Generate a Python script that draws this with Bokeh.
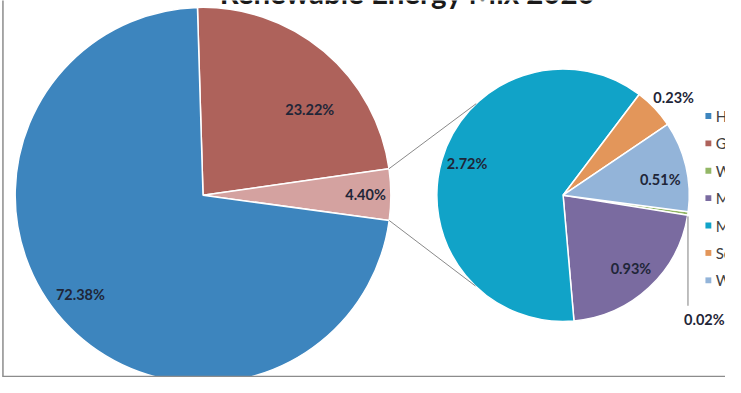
import math
from bokeh.plotting import figure
from bokeh.models import Range1d
from bokeh.embed import file_html
from bokeh.resources import INLINE
from bokeh.core.properties import value

# ---------------- data ----------------
title_text = "Renewable Energy Mix 2020"
sources = ["Hydro", "Geothermal", "Wave", "Mini Hydro", "Modern Biomass", "Solar", "Wind"]
shares = [72.38, 23.22, 0.02, 0.93, 2.72, 0.23, 0.51]
colors = ["#3D85BE", "#AE625B", "#93B766", "#7A6BA0", "#11A3C8", "#E3965A", "#93B4D9"]
other_share = 4.40
other_color = "#D4A2A0"
main_order = ["Geothermal", "Other", "Hydro"]                              # clockwise
second_order = ["Wave", "Mini Hydro", "Modern Biomass", "Solar", "Wind"]  # clockwise

# ---------------- layout (reference pixel space) ----------------
W, H = 741, 393
FW, FH = 725, 377
VIS_H = FH * W / FW            # uniform scale, top aligned
main_c = (207, 199); main_r = 192
sec_c = (575, 199); sec_r = 129
main_start = -1.7
sec_start = 97.5
main_lab = {"Geothermal": (0.73, 11), "Other": (0.865, 0), "Hydro": (0.84, 3)}
sec_lab = {"Mini Hydro": (0.79, 0), "Modern Biomass": (0.80, 2), "Solar": (1.17, 2), "Wind": (0.78, 4)}

share_of = dict(zip(sources, shares)); share_of["Other"] = other_share
color_of = dict(zip(sources, colors)); color_of["Other"] = other_color

p = figure(width=FW, height=FH, output_backend="svg", toolbar_location=None,
           x_range=Range1d(0, W), y_range=Range1d(H - VIS_H, H), min_border=0)
p.axis.visible = False
p.grid.visible = False
p.outline_line_color = None
p.background_fill_color = "white"
p.border_fill_color = "white"

def Y(y):
    return H - y

def pt(c, r, th):
    t = math.radians(th)
    return c[0] + r * math.sin(t), c[1] - r * math.cos(t)

font = value("Lato")
lab_color = "#1f2638"
lab_size = "14.5px"

def draw_pie(center, radius, order, start, total, labels):
    th = start
    spans = {}
    for name in order:
        sweep = share_of[name] / total * 360.0
        t1, t2 = th, th + sweep
        spans[name] = (t1, t2)
        p.wedge(x=[center[0]], y=[Y(center[1])], radius=radius,
                start_angle=[math.radians(90 - t2)], end_angle=[math.radians(90 - t1)],
                direction="anticlock", fill_color=color_of[name],
                line_color="white", line_width=1.5)
        th = t2
    for name, (frac, nudge) in labels.items():
        t1, t2 = spans[name]
        x, y = pt(center, radius * frac, (t1 + t2) / 2 + nudge)
        p.text(x=[x], y=[Y(y)], text=["%.2f%%" % share_of[name]], text_font=font,
               text_font_style="bold", text_font_size=lab_size, text_color=lab_color,
               text_align="center", text_baseline="middle")
    return spans

main_total = sum(share_of[n] for n in main_order)
sec_total = sum(share_of[n] for n in second_order)
mspans = draw_pie(main_c, main_r, main_order, main_start, main_total, main_lab)
sspans = draw_pie(sec_c, sec_r, second_order, sec_start, sec_total, sec_lab)

# connector lines between the "other" slice and the secondary pie
o1, o2 = mspans["Other"]
a = pt(main_c, main_r, o1); b = pt(sec_c, sec_r, 316.5)
c = pt(main_c, main_r, o2); d = pt(sec_c, sec_r, 224)
p.line([a[0], b[0]], [Y(a[1]), Y(b[1])], line_color="#6b6b6b", line_width=0.8)
p.line([c[0], d[0]], [Y(c[1]), Y(d[1])], line_color="#6b6b6b", line_width=0.8)

# leader for the tiny slice
w1, w2 = sspans["Wave"]
ls = pt(sec_c, sec_r, (w1 + w2) / 2)
p.line([ls[0], ls[0]], [Y(ls[1] + 3), Y(312)], line_color="#7f7f7f", line_width=1)
p.text(x=[ls[0] - 4], y=[Y(326)], text=["%.2f%%" % share_of["Wave"]], text_font=font,
       text_font_style="bold", text_font_size=lab_size, text_color=lab_color,
       text_align="left", text_baseline="middle")

# legend (cut off at the right edge, as in the reference)
for i, (name, col) in enumerate(zip(sources, colors)):
    yy = 118 + i * 28
    p.rect(x=[723.5], y=[Y(yy)], width=6, height=6, fill_color=col, line_color=None)
    p.text(x=[731], y=[Y(yy)], text=[name], text_font=font, text_font_size="15px",
           text_color="#404040", text_align="left", text_baseline="middle")

# title (upper part cut off, as in the reference)
p.text(x=[416], y=[Y(-8)], text=[title_text], text_font=font, text_font_style="bold",
       text_font_size="29.5px", text_color="#1a1a1a", text_align="center",
       text_baseline="alphabetic")

# chart border (left and bottom visible)
p.line([2.5, 2.5], [Y(-10), Y(384.5)], line_color="#8c8c8c", line_width=1.5)
p.line([2, W + 10], [Y(384.5), Y(384.5)], line_color="#8c8c8c", line_width=2)

open("out.html", "w").write(file_html(p, INLINE))
